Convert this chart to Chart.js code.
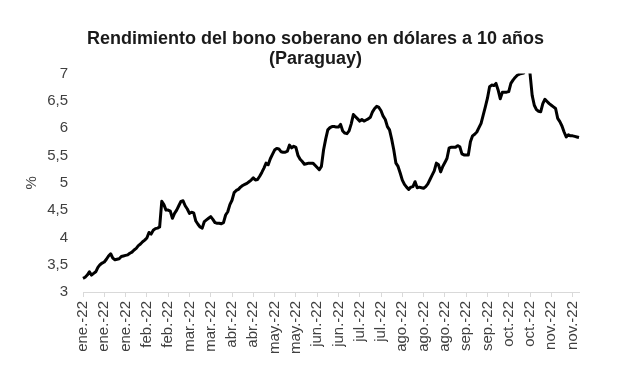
<!DOCTYPE html>
<html lang="es">
<head>
  <meta charset="UTF-8">
  <title>Rendimiento bono soberano Paraguay</title>
  <script src="https://cdn.jsdelivr.net/npm/chart.js"></script>
  <style>
    body {
      margin: 0;
      background: #fff;
    }

    #wrap {
      width: 617px;
      height: 374px;
      position: relative;
    }
  </style>
</head>

<body>
  <div id="wrap"><canvas id="yieldChart"></canvas></div>

  <script>
    // one tick label every 10 business days
    const tickLabels = [
      'ene.-22', 'ene.-22', 'ene.-22', 'feb.-22', 'feb.-22', 'mar.-22', 'mar.-22', 'abr.-22',
      'abr.-22', 'may.-22', 'may.-22', 'jun.-22', 'jun.-22', 'jul.-22', 'jul.-22', 'ago.-22',
      'ago.-22', 'ago.-22', 'sep.-22', 'sep.-22', 'oct.-22', 'oct.-22', 'nov.-22', 'nov.-22'
    ];
    const tickEvery = 10;

    const yTicks = [3, 3.5, 4, 4.5, 5, 5.5, 6, 6.5, 7];

    // daily yield (%), business days from 3 Jan 2022
    const yieldValues = [
      3.25, 3.27, 3.31, 3.37, 3.31, 3.34, 3.37, 3.45, 3.50, 3.53,
      3.55, 3.60, 3.66, 3.70, 3.62, 3.59, 3.60, 3.61, 3.65, 3.66,
      3.67, 3.68, 3.71, 3.73, 3.77, 3.80, 3.85, 3.88, 3.92, 3.95,
      3.99, 4.09, 4.06, 4.13, 4.16, 4.17, 4.19, 4.66, 4.60, 4.50,
      4.50, 4.48, 4.35, 4.44, 4.50, 4.58, 4.66, 4.67, 4.58, 4.52,
      4.44, 4.46, 4.45, 4.30, 4.24, 4.19, 4.17, 4.29, 4.32, 4.35,
      4.38, 4.33, 4.27, 4.26, 4.26, 4.25, 4.27, 4.41, 4.47, 4.60,
      4.68, 4.82, 4.86, 4.88, 4.92, 4.95, 4.97, 4.99, 5.02, 5.05,
      5.09, 5.05, 5.06, 5.12, 5.19, 5.27, 5.36, 5.33, 5.44, 5.52,
      5.60, 5.63, 5.62, 5.57, 5.56, 5.56, 5.58, 5.69, 5.64, 5.67,
      5.65, 5.50, 5.43, 5.39, 5.34, 5.35, 5.36, 5.36, 5.36, 5.32,
      5.28, 5.24, 5.30, 5.60, 5.80, 5.97, 6.01, 6.03, 6.03, 6.02,
      6.02, 6.07, 5.95, 5.91, 5.90, 5.95, 6.08, 6.25, 6.21, 6.17,
      6.13, 6.16, 6.13, 6.15, 6.17, 6.20, 6.30, 6.36, 6.40, 6.38,
      6.32, 6.22, 6.16, 6.03, 5.97, 5.80, 5.60, 5.36, 5.30, 5.18,
      5.05, 4.97, 4.92, 4.88, 4.92, 4.93, 5.02, 4.91, 4.92, 4.91,
      4.90, 4.93, 4.98, 5.06, 5.14, 5.22, 5.36, 5.33, 5.20, 5.30,
      5.37, 5.45, 5.64, 5.65, 5.65, 5.65, 5.68, 5.66, 5.53, 5.51,
      5.51, 5.51, 5.75, 5.86, 5.89, 5.93, 6.01, 6.09, 6.24, 6.39,
      6.55, 6.76, 6.79, 6.78, 6.82, 6.70, 6.54, 6.66, 6.66, 6.66,
      6.67, 6.82, 6.88, 6.93, 6.97, 6.99, 7.00, 7.01, 7.10, 7.15,
      7.00, 6.60, 6.42, 6.34, 6.31, 6.30, 6.45, 6.53, 6.49, 6.45,
      6.42, 6.39, 6.36, 6.18, 6.12, 6.04, 5.93, 5.84, 5.88, 5.86,
      5.86, 5.85, 5.84, 5.83
    ];

    // business-day dates used as categories
    const dates = [];
    const day = new Date(2022, 0, 3);
    while (dates.length < yieldValues.length) {
      const wd = day.getDay();
      if (wd !== 0 && wd !== 6) {
        dates.push(day.getFullYear() + '-' + (day.getMonth() + 1) + '-' + day.getDate());
      }
      day.setDate(day.getDate() + 1);
    }

    const fontFamily = "'Liberation Sans', Arial, sans-serif";
    const textColor = '#404040';

    new Chart(document.getElementById('yieldChart'), {
      type: 'line',
      data: {
        labels: dates,
        datasets: [{
          data: yieldValues,
          borderColor: '#000',
          borderWidth: 3,
          pointRadius: 0,
          tension: 0,
          borderJoinStyle: 'round'
        }]
      },
      options: {
        responsive: true,
        maintainAspectRatio: false,
        animation: false,
        layout: {
          padding: { left: 14, right: 0, top: 0, bottom: 0 }
        },
        plugins: {
          legend: { display: false },
          tooltip: { enabled: false },
          title: {
            display: true,
            text: ['Rendimiento del bono soberano en dólares a 10 años', '(Paraguay)'],
            color: '#1a1a1a',
            font: { family: fontFamily, size: 18, weight: 'bold', lineHeight: 1.1 },
            padding: { top: 29, bottom: 5 }
          }
        },
        scales: {
          x: {
            type: 'category',
            grid: {
              display: true,
              drawOnChartArea: false,
              drawTicks: true,
              tickLength: 5,
              color: '#d9d9d9'
            },
            border: { display: true, color: '#d9d9d9', width: 1 },
            ticks: {
              autoSkip: false,
              minRotation: 90,
              maxRotation: 90,
              padding: 4,
              color: textColor,
              font: { family: fontFamily, size: 15 },
              callback: (v, i) => (i % tickEvery === 0 ? tickLabels[i / tickEvery] : null)
            },
            afterFit: (scale) => { scale.height = 82; }
          },
          y: {
            min: yTicks[0],
            max: yTicks[yTicks.length - 1],
            grid: { display: false, drawTicks: false },
            border: { display: false },
            afterBuildTicks: (scale) => { scale.ticks = yTicks.map(v => ({ value: v })); },
            ticks: {
              padding: 15,
              color: textColor,
              font: { family: fontFamily, size: 15 },
              callback: (v) => String(v).replace('.', ',')
            },
            title: {
              display: true,
              text: '%',
              color: textColor,
              font: { family: fontFamily, size: 15 },
              padding: { top: 9, bottom: 0 }
            },
            afterFit: (scale) => { scale.width = 69; }
          },
          yRight: {
            type: 'linear',
            position: 'right',
            grid: { display: false, drawTicks: false },
            border: { display: false },
            ticks: { display: false },
            afterFit: (scale) => { scale.width = 38; }
          }
        }
      }
    });
  </script>
</body>

</html>
